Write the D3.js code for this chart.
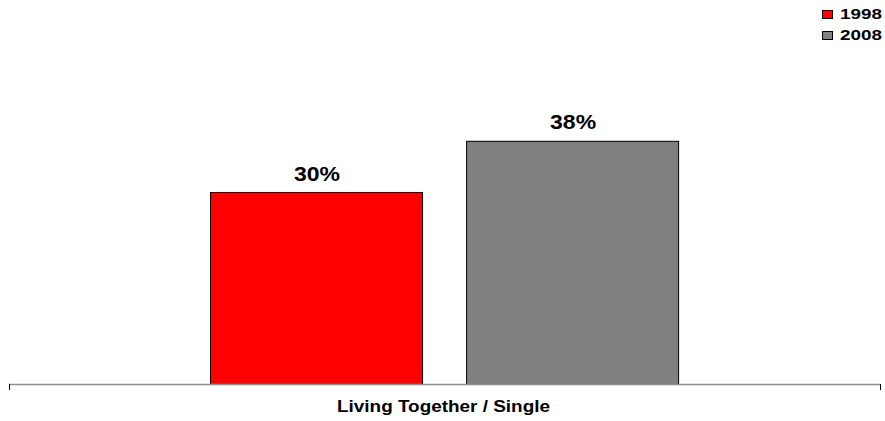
<!DOCTYPE html>
<html>
<head>
<meta charset="utf-8">
<script src="https://cdn.jsdelivr.net/npm/d3@7"></script>
<style>
html,body{margin:0;padding:0;background:#fff;}
text{font-family:"Liberation Sans",Arial,sans-serif;font-weight:bold;fill:#000;}
</style>
</head>
<body>
<svg id="chart" width="885" height="421"></svg>
<script>
const categories = ["Living Together / Single"];
const series = ["1998", "2008"];
const values1998 = [30];
const values2008 = [38];
const valueLabels1998 = ["30%"];
const valueLabels2008 = ["38%"];
const colors = ["#ff0000", "#808080"];

const svg = d3.select("#chart");
const W = 885, H = 421;
const left = 9, right = 880, baseY = 384;

const y = d3.scaleLinear().domain([0, 60]).range([baseY, 0]);
const x0 = d3.scaleBand().domain(categories).range([left, right]);
const bw = x0.bandwidth();
const x1 = d3.scaleBand().domain(series)
  .range([bw * 0.2308, bw * 0.7682]).paddingInner(0.172).paddingOuter(0);
const color = d3.scaleOrdinal().domain(series).range(colors);

const data = categories.map((c, i) => ({
  cat: c,
  vals: [
    {s: "1998", v: values1998[i], lab: valueLabels1998[i]},
    {s: "2008", v: values2008[i], lab: valueLabels2008[i]}
  ]
}));

const g = svg.selectAll("g.cat").data(data).enter().append("g")
  .attr("class", "cat")
  .attr("transform", d => `translate(${x0(d.cat)},0)`);

g.selectAll("rect").data(d => d.vals).enter().append("rect")
  .attr("x", d => x1(d.s) + 0.5)
  .attr("y", d => y(d.v) + 0.5)
  .attr("width", x1.bandwidth())
  .attr("height", d => baseY - y(d.v))
  .attr("fill", d => color(d.s))
  .attr("stroke", "#000")
  .attr("stroke-width", 1);

g.selectAll("text.val").data(d => d.vals).enter().append("text")
  .attr("class", "val")
  .attr("x", d => x1(d.s) + x1.bandwidth() / 2 + 1)
  .attr("y", d => y(d.v) - 11.5)
  .attr("text-anchor", "middle")
  .attr("font-size", 19.5)
  .attr("textLength", 46)
  .attr("lengthAdjust", "spacingAndGlyphs")
  .text(d => d.lab);

// axis
const axis = svg.append("g").attr("transform", `translate(0,${baseY})`)
  .call(d3.axisBottom(x0).tickSize(0).tickFormat(""));
axis.select(".domain").remove();
axis.append("line").attr("x1", left).attr("x2", right).attr("y1", 0.5).attr("y2", 0.5)
  .attr("stroke", "#8c8c8c").attr("stroke-width", 1.5);
[left, right].forEach(xx => {
  axis.append("line").attr("x1", xx + 0.5).attr("x2", xx + 0.5).attr("y1", 0).attr("y2", 6)
    .attr("stroke", "#000").attr("stroke-width", 1);
});
axis.selectAll(".tick").append("text")
  .attr("y", 27.5)
  .attr("x", -1)
  .attr("text-anchor", "middle")
  .attr("font-size", 16)
  .attr("textLength", 213)
  .attr("lengthAdjust", "spacingAndGlyphs")
  .text(d => d);

// legend
const legend = svg.append("g").attr("transform", "translate(822,0)");
series.forEach((s, i) => {
  const ly = 10 + i * 21;
  legend.append("rect").attr("x", 0.5).attr("y", ly + 0.5).attr("width", 10).attr("height", 8)
    .attr("fill", color(s)).attr("stroke", "#000").attr("stroke-width", 1);
  legend.append("text").attr("x", 18).attr("y", ly + 9)
    .attr("font-size", 15)
    .attr("textLength", 42)
    .attr("lengthAdjust", "spacingAndGlyphs")
    .text(s);
});
</script>
</body>
</html>
